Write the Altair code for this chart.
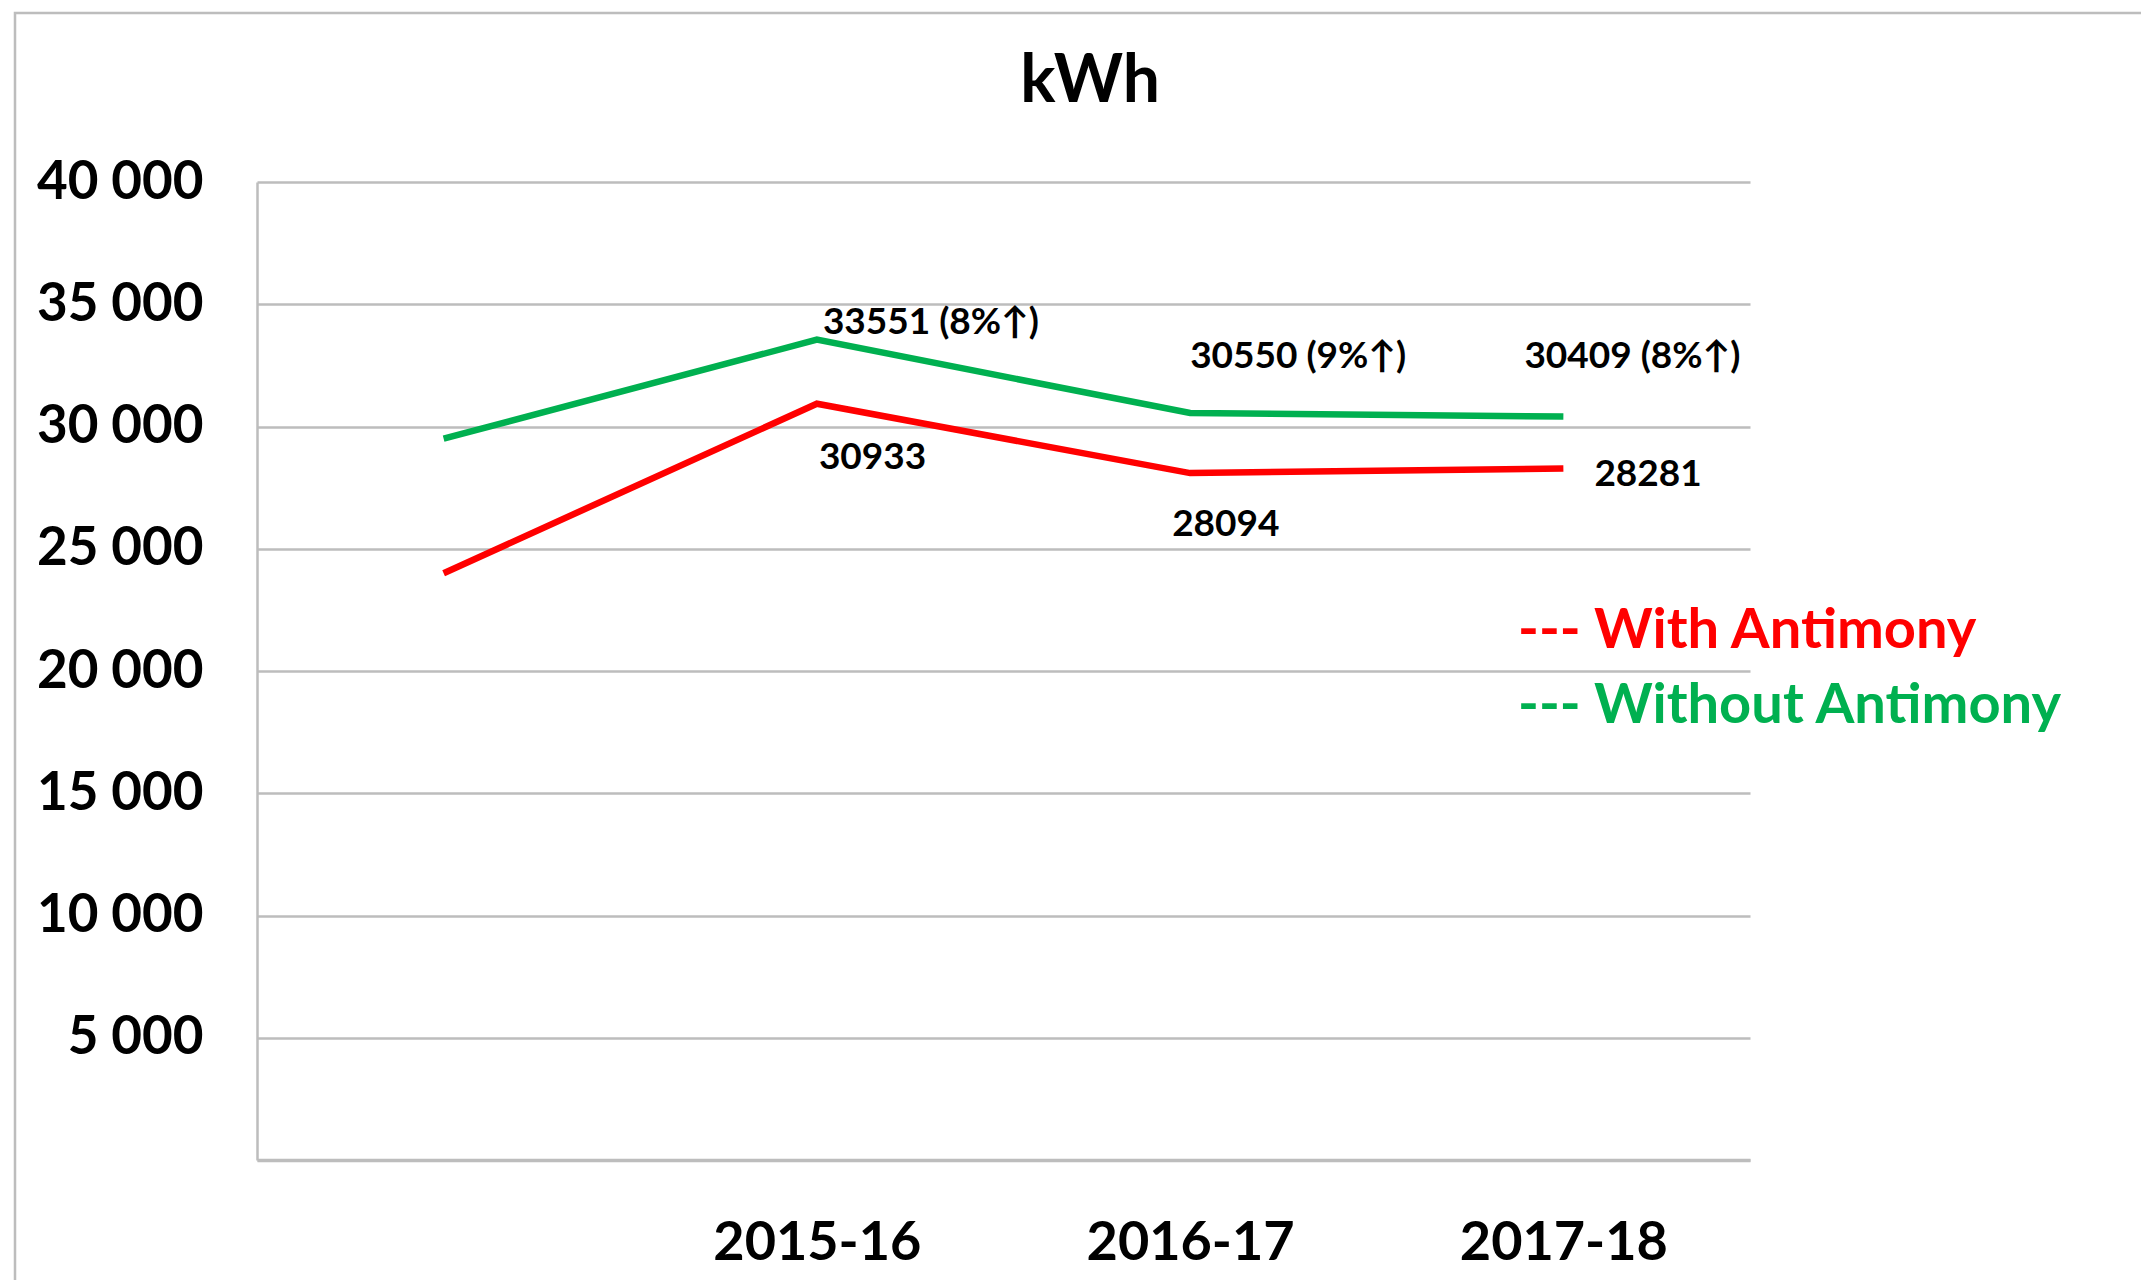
import altair as alt
import pandas as pd

categories = [" ", "2015-16", "2016-17", "2017-18"]
with_antimony = [24000, 30933, 28094, 28281]
without_antimony = [29500, 33551, 30550, 30409]
with_labels = ["", "30933", "28094", "28281"]
without_labels = ["", "33551 (8%\u2191)", "30550 (9%\u2191)", "30409 (8%\u2191)"]
y_ticks = [0, 5000, 10000, 15000, 20000, 25000, 30000, 35000, 40000]
series_names = ["With Antimony", "Without Antimony"]
series_colors = ["#FF0000", "#00B050"]

rows = []
for c, v, l in zip(categories, with_antimony, with_labels):
    rows.append({"cat": c, "value": v, "series": series_names[0], "label": l})
for c, v, l in zip(categories, without_antimony, without_labels):
    rows.append({"cat": c, "value": v, "series": series_names[1], "label": l})
df = pd.DataFrame(rows)

W, H = 1493, 978
FONT = "Lato"

x_enc = alt.X("cat:N", sort=categories, title=None,
              scale=alt.Scale(type="point", padding=0.5),
              axis=alt.Axis(labelFont=FONT, labelFontSize=54, labelFontWeight="bold",
                            labelColor="black", labelPadding=56, tickSize=0,
                            labelLimit=0,
                            domainColor="#BDBDBD", domainWidth=3.5, labelAngle=0,
                            grid=False))
y_enc = alt.Y("value:Q", title=None,
              scale=alt.Scale(domain=[0, 40000], nice=False),
              axis=alt.Axis(values=y_ticks, labelFont=FONT, labelFontSize=53,
                            labelFontWeight="bold", labelColor="black",
                            labelPadding=54, tickSize=0,
                            domainColor="#BDBDBD", domainWidth=2.5,
                            gridColor="#BDBDBD", gridWidth=2.5,
                            labelExpr="datum.value == 0 ? '' : replace(format(datum.value, ','), ',', ' ')"))

color_enc = alt.Color("series:N", scale=alt.Scale(domain=series_names, range=series_colors), legend=None)

base = alt.Chart(df)
lines = base.mark_line(strokeWidth=6.5).encode(x=x_enc, y=y_enc, color=color_enc)

# Data labels, each with its own offset as in the reference
offsets = {
    ("Without Antimony", "2015-16"): (6, -17),
    ("Without Antimony", "2016-17"): (0, -56),
    ("Without Antimony", "2017-18"): (-39, -59),
    ("With Antimony", "2015-16"): (2, 54),
    ("With Antimony", "2016-17"): (-18, 52),
    ("With Antimony", "2017-18"): (31, 6),
}
label_layers = []
for (s, c), (dx, dy) in offsets.items():
    label_layers.append(
        base.transform_filter((alt.datum.series == s) & (alt.datum.cat == c))
        .mark_text(align="left", baseline="middle", dx=dx, dy=dy, font=FONT,
                   fontSize=37, fontWeight="bold", color="black")
        .encode(x=alt.X("cat:N", sort=categories), y="value:Q", text="label:N")
    )

# Text legend
leg_df = pd.DataFrame({"t": ["--- " + n for n in series_names], "series": series_names})
legend_layers = []
for i, (n, col) in enumerate(zip(series_names, series_colors)):
    legend_layers.append(
        alt.Chart(leg_df).transform_filter(alt.datum.series == n)
        .mark_text(align="left", baseline="middle", font=FONT, fontSize=56,
                   fontWeight="bold", color=col)
        .encode(x=alt.value(1261), y=alt.value(449 + 75 * i), text="t:N")
    )

# Title text
title_df = pd.DataFrame({"t": ["kWh"]})
title_layer = alt.Chart(title_df).mark_text(
    align="center", baseline="middle", font=FONT, fontSize=66, fontWeight="bold", color="black"
).encode(x=alt.value(833), y=alt.value(-100), text="t:N")

# Outer chart-area border
border = alt.Chart(pd.DataFrame({"a": [0]})).mark_rect(
    fill="transparent", stroke="#BDBDBD", strokeWidth=2.5
).encode(x=alt.value(-242), x2=alt.value(2200), y=alt.value(-169), y2=alt.value(1200))

chart = alt.layer(border, lines, *label_layers, *legend_layers, title_layer).properties(
    width=W, height=H,
    background="white",
    autosize=alt.AutoSizeParams(type="none"),
    padding={"left": 249, "top": 174, "right": 391, "bottom": 120},
).configure_view(strokeWidth=0, stroke="transparent")

chart.save("out.html", embed_options={"renderer": "svg", "actions": False})
